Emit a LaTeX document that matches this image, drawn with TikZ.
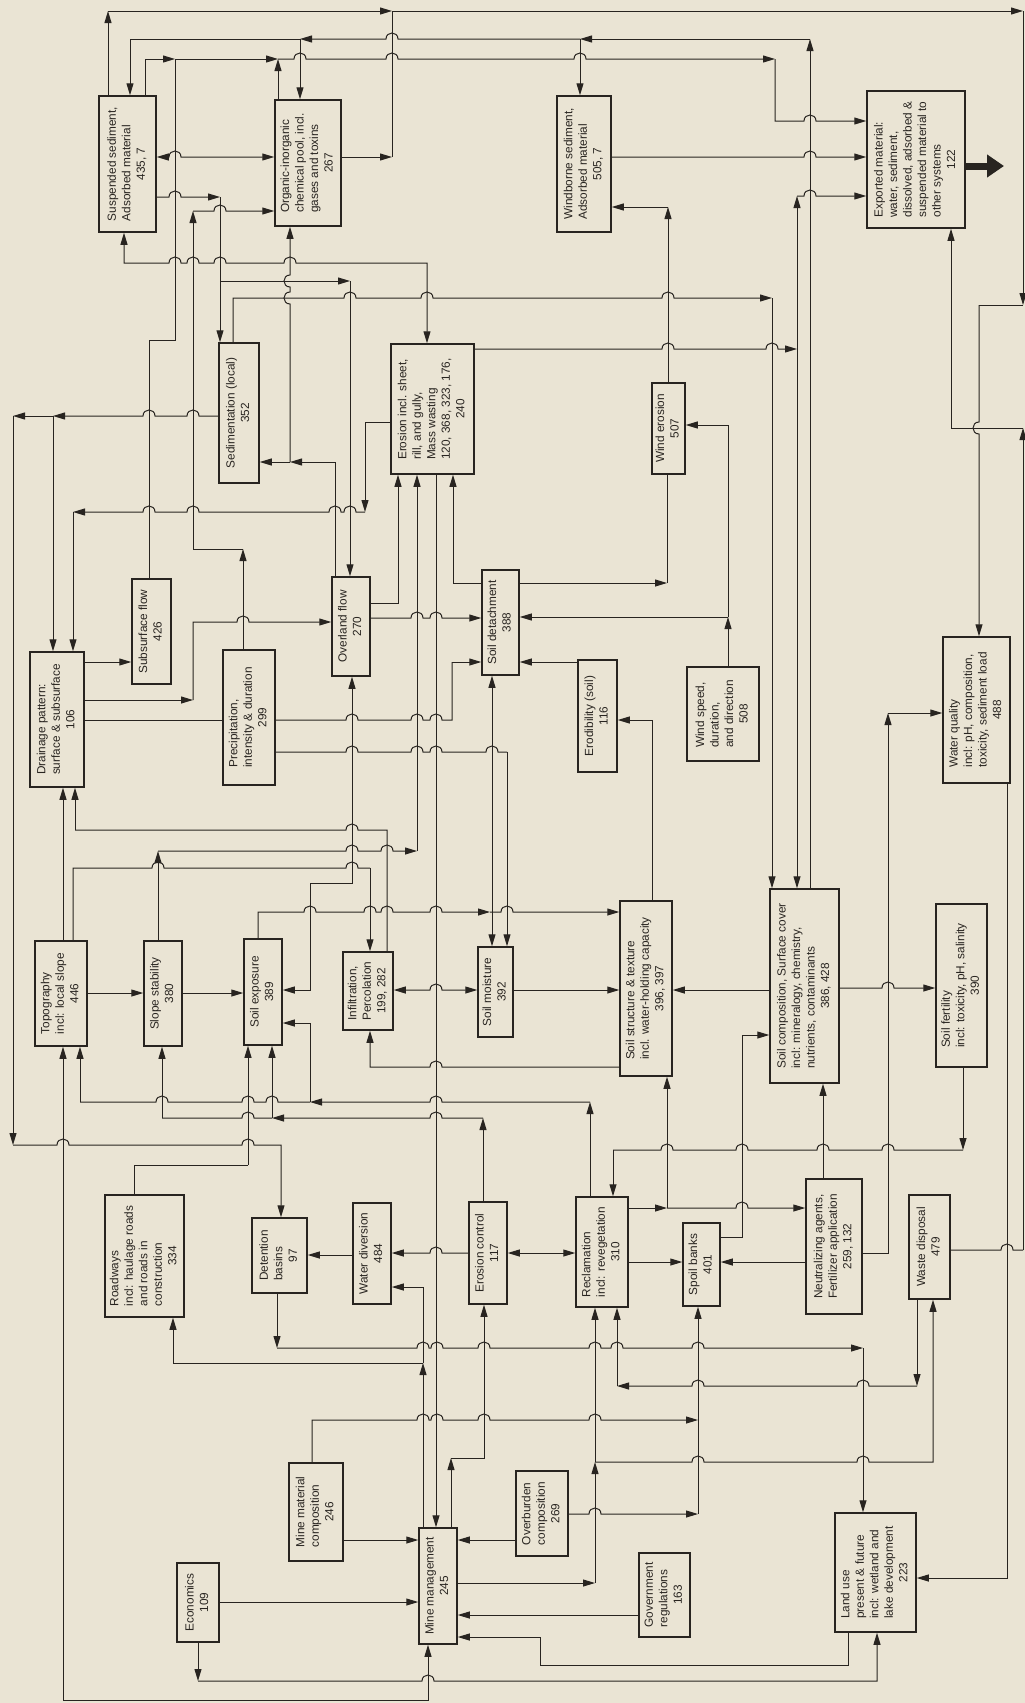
\documentclass[tikz,border=0pt]{standalone}
\usepackage{fontspec}
\setmainfont{Liberation Sans}
\usetikzlibrary{arrows.meta}
\definecolor{bg}{RGB}{234,228,212}
\definecolor{ink}{RGB}{40,36,32}
\newcommand{\hopR}[2]{-- ({#1-6},#2) .. controls ({#1-6},{#2-8}) and ({#1+6},{#2-8}) .. ({#1+6},#2)}
\newcommand{\hopL}[2]{-- ({#1+6},#2) .. controls ({#1+6},{#2-8}) and ({#1-6},{#2-8}) .. ({#1-6},#2)}
\newcommand{\hopD}[2]{-- (#1,{#2-6}) .. controls ({#1-8},{#2-6}) and ({#1-8},{#2+6}) .. (#1,{#2+6})}
\newcommand{\hopU}[2]{-- (#1,{#2+6}) .. controls ({#1-8},{#2+6}) and ({#1-8},{#2-6}) .. (#1,{#2-6})}
\newcommand{\aT}[2]{(#2,0 |- #1.north)}
\newcommand{\aB}[2]{(#2,0 |- #1.south)}
\newcommand{\aL}[2]{(#1.west |- 0,#2)}
\newcommand{\aR}[2]{(#1.east |- 0,#2)}
\newcommand{\nm}[1]{\multicolumn{1}{@{}c@{}}{#1}}
\newcommand{\bx}[6]{\node[bx,minimum width={#4-#2},minimum height={#5-#3}] (#1) at ({(#2+#4)/2},{(#3+#5)/2}) {\rotatebox{90}{\begin{tabular}{@{}l@{}}#6\end{tabular}}};}
\tikzset{
  bx/.style={draw=ink,line width=1.5pt,inner sep=0pt,text=ink,font=\fontsize{11.8}{14.5}\selectfont},
  ln/.style={draw=ink,line width=1pt},
  ar/.style={-{Triangle[length=12pt,width=7pt]}},
  ara/.style={{Triangle[length=12pt,width=7pt]}-{Triangle[length=12pt,width=7pt]}}
}
\begin{document}
\begin{tikzpicture}[x=1pt,y=-1pt]
\fill[bg] (0,0) rectangle (1025,1703);
\useasboundingbox (0,0) rectangle (1025,1703);
% ---------- boxes ----------
\bx{susp}{99}{96}{156}{232}{Suspended sediment,\\Adsorbed material\\\nm{435, 7}}
\bx{org}{275}{100}{341}{226}{Organic-inorganic\\chemical pool, incl.\\gases and toxins\\\nm{267}}
\bx{wind}{557}{96}{611}{232}{Windborne sediment,\\Adsorbed material\\\nm{505, 7}}
\bx{exp}{867}{91}{965}{228}{Exported material:\\water, sediment,\\dissolved, adsorbed \&\\suspended material to\\other systems\\\nm{122}}
\bx{sed}{219}{343}{259}{483}{Sedimentation (local)\\\nm{352}}
\bx{ero}{391}{344}{474}{474}{Erosion incl. sheet,\\rill, and gully,\\Mass wasting\\120, 368, 323, 176,\\\nm{240}}
\bx{werosion}{652}{383}{685}{474}{Wind erosion\\\nm{507}}
\bx{drain}{30}{652}{84}{787}{Drainage pattern:\\surface \& subsurface\\\nm{106}}
\bx{subs}{132}{579}{171}{684}{Subsurface flow\\\nm{426}}
\bx{prec}{223}{650}{275}{785}{Precipitation,\\intensity \& duration\\\nm{299}}
\bx{ovl}{332}{577}{370}{676}{Overland flow\\\nm{270}}
\bx{sdet}{482}{570}{519}{675}{Soil detachment\\\nm{388}}
\bx{erod}{578}{660}{617}{772}{Erodibility (soil)\\\nm{116}}
\bx{wspeed}{687}{667}{759}{761}{Wind speed,\\duration,\\and direction\\\nm{508}}
\bx{wq}{943}{637}{1010}{783}{Water quality\\incl: pH, composition,\\toxicity, sediment load\\\nm{488}}
\bx{topo}{35}{941}{87}{1046}{Topography\\incl: local slope\\\nm{446}}
\bx{slope}{144}{941}{182}{1046}{Slope stability\\\nm{380}}
\bx{sexp}{244}{939}{282}{1045}{Soil exposure\\\nm{389}}
\bx{infil}{343}{952}{393}{1030}{Infiltration,\\Percolation\\\nm{199, 282}}
\bx{smoist}{478}{947}{513}{1037}{Soil moisture\\\nm{392}}
\bx{sstruct}{620}{901}{672}{1076}{Soil structure \& texture\\incl. water-holding capacity\\\nm{396, 397}}
\bx{scomp}{770}{889}{839}{1083}{Soil composition, Surface cover\\incl: mineralogy, chemistry,\\nutrients, contaminants\\\nm{386, 428}}
\bx{sfert}{936}{904}{987}{1067}{Soil fertility\\incl: toxicity, pH, salinity\\\nm{390}}
\bx{road}{105}{1195}{184}{1317}{Roadways\\incl: haulage roads\\and roads in\\construction\\\nm{334}}
\bx{det}{252}{1218}{307}{1293}{Detention\\basins\\\nm{97}}
\bx{wdiv}{353}{1203}{391}{1304}{Water diversion\\\nm{484}}
\bx{ectrl}{469}{1202}{507}{1304}{Erosion control\\\nm{117}}
\bx{recl}{576}{1197}{628}{1307}{Reclamation\\incl: revegetation\\\nm{310}}
\bx{spoil}{683}{1223}{720}{1306}{Spoil banks\\\nm{401}}
\bx{neut}{806}{1179}{862}{1314}{Neutralizing agents,\\Fertilizer application\\\nm{259, 132}}
\bx{waste}{909}{1195}{950}{1299}{Waste disposal\\\nm{479}}
\bx{mmat}{289}{1463}{343}{1561}{Mine material\\composition\\\nm{246}}
\bx{econ}{177}{1563}{219}{1642}{Economics\\\nm{109}}
\bx{mine}{419}{1528}{457}{1644}{Mine management\\\nm{245}}
\bx{over}{516}{1471}{568}{1556}{Overburden\\composition\\\nm{269}}
\bx{gov}{639}{1553}{690}{1637}{Government\\regulations\\\nm{163}}
\bx{land}{835}{1513}{916}{1632}{Land use\\present \& future\\incl: wetland and\\lake development\\\nm{223}}
% ---------- top connectors ----------
\draw[ln,ar] \aT{susp}{108} -- (108,11);
\draw[ln,ar] (108,11) -- (392,11);
\draw[ln,ar] \aR{org}{157} -- (392,157);
\draw[ln] (392,157) -- (392,11);
\draw[ln,ar] (392,11) -- (1023,11);
\draw[ln,ar] (1023,11) -- (1023,305);
\draw[ln] (1023,305) -- (979,305);
\draw[ln,ar] (979,305) \hopD{979}{428} -- \aT{wq}{979};
\draw[ln,ar] \aT{scomp}{810} -- (810,39);
\draw[ln,ar] (810,39) -- (580,39);
\draw[ln,ar] (580,39) -- \aT{wind}{580};
\draw[ln,ar] (580,39) \hopL{392}{39} -- (300,39);
\draw[ln,ar] (300,39) -- \aT{org}{300};
\draw[ln] (300,39) -- (130,39);
\draw[ln,ar] (130,39) -- \aT{susp}{130};
\draw[ln,ar] \aT{susp}{145} |- (175,59);
\draw[ln] \aT{subs}{149} -- (149,340) -- (175,340) -- (175,59);
\draw[ln,ar] (175,59) -- (278,59);
\draw[ln,ar] \aT{org}{278} -- (278,59);
\draw[ln,ar] (278,59) \hopR{300}{59} \hopR{392}{59} \hopR{580}{59} -- (775,59);
\draw[ln,ar] (775,59) -- (775,121) \hopR{810}{121} -- \aL{exp}{121};
\draw[ln,ara] \aR{susp}{157} \hopR{175}{157} -- \aL{org}{157};
\draw[ln,ar] \aR{susp}{197} \hopR{175}{197} -- (220,197);
\draw[ln,ar] (220,197) -- \aT{sed}{220};
\draw[ln,ar] (220,281) -- (350,281);
\draw[ln,ar] (350,281) -- \aT{ovl}{350};
\draw[ln,ara] \aB{susp}{124} -- (124,263) \hopR{175}{263} \hopR{193}{263} \hopR{220}{263} \hopR{290}{263} -- (427,263) -- \aT{ero}{427};
\draw[ln,ar] \aT{sed}{233} -- (233,298) \hopR{350}{298} \hopR{427}{298} \hopR{668}{298} -- (772,298);
\draw[ln,ar] (772,298) -- \aT{scomp}{772};
\draw[ln] \aT{ovl}{335} -- (335,462);
\draw[ln,ar] (335,462) -- (290,462);
\draw[ln,ar] (290,462) -- \aR{sed}{462};
\draw[ln,ar] (290,462) \hopU{290}{298} \hopU{290}{281} -- \aB{org}{290};
\draw[ln,ar] \aT{prec}{243} -- (243,549);
\draw[ln,ar] (243,549) -- (193,549) -- (193,211);
\draw[ln,ar] (193,211) \hopR{220}{211} -- \aL{org}{211};
\draw[ln,ar] \aL{sed}{416} \hopL{193}{416} \hopL{149}{416} -- (53,416);
\draw[ln,ar] (53,416) -- (13,416);
\draw[ln,ar] (53,416) -- \aT{drain}{53};
\draw[ln,ar] (13,416) -- (13,1145);
\draw[ln,ar] (13,1145) \hopR{63}{1145} \hopR{248}{1145} -- (281,1145) -- \aT{det}{281};
\draw[ln,ar] \aL{ero}{422} -| (365,512);
\draw[ln,ar] (365,512) \hopL{350}{512} \hopL{335}{512} \hopL{193}{512} \hopL{149}{512} -- (73,512);
\draw[ln,ar] (73,512) -- \aT{drain}{73};
% ---------- drainage / precipitation ----------
\draw[ln,ar] \aR{drain}{662} -- \aL{subs}{662};
\draw[ln,ar] \aR{drain}{700} -- (193,700);
\draw[ln,ar] (193,700) -- (193,622) \hopR{243}{622} -- \aL{ovl}{622};
\draw[ln] \aR{drain}{720} -- \aL{prec}{720};
\draw[ln] \aR{prec}{720} \hopR{352}{720} \hopR{417}{720} \hopR{436}{720} -- (452,720) -- (452,662);
\draw[ln,ar] (452,662) -- \aL{sdet}{662};
\draw[ln] \aR{prec}{752} \hopR{352}{752} \hopR{417}{752} \hopR{436}{752} \hopR{492}{752} -- (507,752);
\draw[ln,ar] (507,752) -- \aT{smoist}{507};
% ---------- overland / detachment / erosion ----------
\draw[ln,ar] \aR{ovl}{603} -| \aB{ero}{398};
\draw[ln,ar] \aR{ovl}{618} \hopR{417}{618} \hopR{436}{618} -- \aL{sdet}{618};
\draw[ln,ar] \aL{sdet}{583} -| \aB{ero}{453};
\draw[ln,ar] \aR{sdet}{583} -- (667,583);
\draw[ln] (667,583) -- \aB{werosion}{667};
\draw[ln,ar] \aT{werosion}{668} -- (668,207);
\draw[ln,ar] (668,207) -- \aR{wind}{207};
\draw[ln,ar] \aR{wind}{157} \hopR{810}{157} -- \aL{exp}{157};
\draw[ln,ar] \aR{ero}{349} \hopR{668}{349} \hopR{772}{349} -- (797,349);
\draw[ln,ar] (797,349) -- (797,196);
\draw[ln,ar] (797,196) \hopR{810}{196} -- \aL{exp}{196};
\draw[ln,ar] (797,349) -- \aT{scomp}{797};
\draw[ln,ar] \aL{erod}{662} -- \aR{sdet}{662};
\draw[ln,ar] \aT{wspeed}{728} -- (728,617);
\draw[ln,ar] (728,617) -- \aR{sdet}{617};
\draw[ln] (728,617) -- (728,425);
\draw[ln,ar] (728,425) -- \aR{werosion}{425};
\draw[ln,ar] \aT{sstruct}{652} |- \aR{erod}{720};
% ---------- soil block ----------
\draw[ln,ara] \aB{sdet}{492} -- \aT{smoist}{492};
\draw[ln,ara] \aR{infil}{990} \hopR{436}{990} -- \aL{smoist}{990};
\draw[ln,ar] \aR{smoist}{990} -- \aL{sstruct}{990};
\draw[ln,ar] \aL{sstruct}{1067} \hopL{436}{1067} -| \aB{infil}{370};
\draw[ln,ar] \aT{sexp}{258} -- (258,912) \hopR{310}{912} \hopR{370}{912} \hopR{387}{912} \hopR{436}{912} -- (490,912);
\draw[ln,ar] (490,912) \hopR{507}{912} -- \aL{sstruct}{912};
\draw[ln,ar] \aL{scomp}{990} -- \aR{sstruct}{990};
\draw[ln,ar] \aR{scomp}{988} \hopR{888}{988} -- \aL{sfert}{988};
\draw[ln,ar] \aB{sfert}{963} -- (963,1150);
\draw[ln] (963,1150) \hopL{888}{1150} \hopL{823}{1150} \hopL{742}{1150} \hopL{667}{1150} -- (613,1150);
\draw[ln,ar] (613,1150) -- \aT{recl}{613};
\draw[ln,ar] \aR{recl}{1208} -- (667,1208);
\draw[ln,ar] (667,1208) -- \aB{sstruct}{667};
\draw[ln,ar] (667,1208) \hopR{742}{1208} -- \aL{neut}{1208};
\draw[ln,ar] \aR{recl}{1262} -- \aL{spoil}{1262};
\draw[ln] \aR{spoil}{1237} -- (742,1237) -- (742,1035);
\draw[ln,ar] (742,1035) -- \aL{scomp}{1035};
\draw[ln,ar] \aL{neut}{1262} -- \aR{spoil}{1262};
\draw[ln,ar] \aT{neut}{823} -- \aB{scomp}{823};
\draw[ln,ar] \aR{neut}{1253} -| (888,713);
\draw[ln,ar] (888,713) -- \aL{wq}{713};
\draw[ln,ar] \aB{wq}{1007} |- \aR{land}{1578};
% ---------- waste / exported ----------
\draw[ln] \aR{waste}{1250} \hopR{1007}{1250} -- (1023,1250);
\draw[ln,ar] (1023,1250) -- (1023,428);
\draw[ln] (1023,428) -- (951,428);
\draw[ln,ar] (951,428) -- \aB{exp}{951};
\draw[ln,ar] \aB{waste}{917} -- (917,1386);
\draw[ln,ar] (917,1386) \hopL{863}{1386} \hopL{698}{1386} -- (617,1386);
\draw[ln,ar] (617,1386) -- \aB{recl}{617};
\draw[ink,line width=7pt,-{Triangle[length=17pt,width=22pt]}] (exp.east |- 0,166) -- (1004,166);
% ---------- mine management ----------
\draw[ln,ar] \aR{mine}{1583} -- (595,1583);
\draw[ln,ar] (595,1583) -- (595,1462);
\draw[ln,ar] (595,1462) -- \aB{recl}{595};
\draw[ln,ar] (595,1462) \hopR{698}{1462} \hopR{863}{1462} -- (933,1462) -- \aB{waste}{933};
\draw[ln,ar] \aL{over}{1540} -- \aR{mine}{1540};
\draw[ln,ar] \aR{over}{1514} \hopR{595}{1514} -- (698,1514);
\draw[ln,ar] (698,1514) -- \aB{spoil}{698};
\draw[ln,ar] \aT{mmat}{312} -- (312,1420) \hopR{423}{1420} \hopR{437}{1420} \hopR{484}{1420} \hopR{595}{1420} -- (698,1420);
\draw[ln,ar] \aR{mmat}{1540} -- \aL{mine}{1540};
\draw[ln,ar] \aR{econ}{1602} -- \aL{mine}{1602};
\draw[ln,ar] \aB{econ}{198} -- (198,1681);
\draw[ln,ar] (198,1681) \hopR{428}{1681} -- (877,1681) -- \aB{land}{877};
\draw[ln,ar] \aB{land}{848} |- (540,1665) -- (540,1637) -- \aR{mine}{1637};
\draw[ln,ar] \aL{gov}{1615} -- \aR{mine}{1615};
\draw[ln,ara] \aB{mine}{428} -- (428,1700) -- (63,1700) -- \aB{topo}{63};
\draw[ln,ar] \aT{mine}{423} -- (423,1363);
\draw[ln,ar] (423,1363) -| \aB{road}{173};
\draw[ln] (423,1363) -- (423,1287);
\draw[ln,ar] (423,1287) -- \aR{wdiv}{1287};
\draw[ln,ar] \aB{ero}{436} -- \aT{mine}{436};
\draw[ln,ar] \aT{mine}{451} -- (451,1458);
\draw[ln,ar] (451,1458) -| \aB{ectrl}{484};
\draw[ln,ar] \aT{slope}{158} -- (158,851);
\draw[ln,ar] (158,851) \hopR{352}{851} \hopR{387}{851} -- (417,851);
\draw[ln,ar] (417,851) -- \aB{ero}{417};
\draw[ln,ar] \aL{ectrl}{1253} \hopL{436}{1253} -- \aR{wdiv}{1253};
\draw[ln,ara] \aR{ectrl}{1253} -- \aL{recl}{1253};
\draw[ln,ar] \aT{ectrl}{483} -- (483,1118);
\draw[ln,ar] (483,1118) \hopL{436}{1118} -- (272,1118);
\draw[ln,ar] (272,1118) -- \aB{sexp}{272};
\draw[ln] (272,1118) \hopL{248}{1118} -- (162,1118);
\draw[ln,ar] (162,1118) -- \aB{slope}{162};
\draw[ln,ar] \aT{recl}{590} -- (590,1102);
\draw[ln,ar] (590,1102) \hopL{436}{1102} -- (310,1102);
\draw[ln,ar] (310,1102) -- (310,1023) -- \aR{sexp}{1023};
\draw[ln] (310,1102) \hopL{272}{1102} \hopL{248}{1102} \hopL{162}{1102} -- (80,1102);
\draw[ln,ar] (80,1102) -- \aB{topo}{80};
\draw[ln] \aT{road}{134} |- (248,1165);
\draw[ln,ar] (248,1165) -- \aB{sexp}{248};
\draw[ln,ar] \aL{wdiv}{1255} -- \aR{det}{1255};
\draw[ln,ar] \aB{det}{277} -- (277,1348);
\draw[ln,ar] (277,1348) \hopR{423}{1348} \hopR{437}{1348} \hopR{484}{1348} \hopR{595}{1348} \hopR{617}{1348} \hopR{698}{1348} -- (863,1348);
\draw[ln,ar] (863,1348) -- \aT{land}{863};
% ---------- topography / infiltration ----------
\draw[ln,ar] \aT{topo}{63} -- \aB{drain}{63};
\draw[ln] \aT{infil}{387} -- (387,830) \hopL{352}{830} -- (75,830);
\draw[ln,ar] (75,830) -- \aB{drain}{75};
\draw[ln] \aT{topo}{73} -- (73,868) \hopR{158}{868} \hopR{352}{868} -- (370,868);
\draw[ln,ar] (370,868) -- \aT{infil}{370};
\draw[ln,ara] \aB{ovl}{352} -- (352,883) -- (310,883) -- (310,990) -- \aR{sexp}{990};
\draw[ln,ar] \aR{topo}{993} -- \aL{slope}{993};
\draw[ln,ar] \aR{slope}{993} -- \aL{sexp}{993};
\end{tikzpicture}
\end{document}
